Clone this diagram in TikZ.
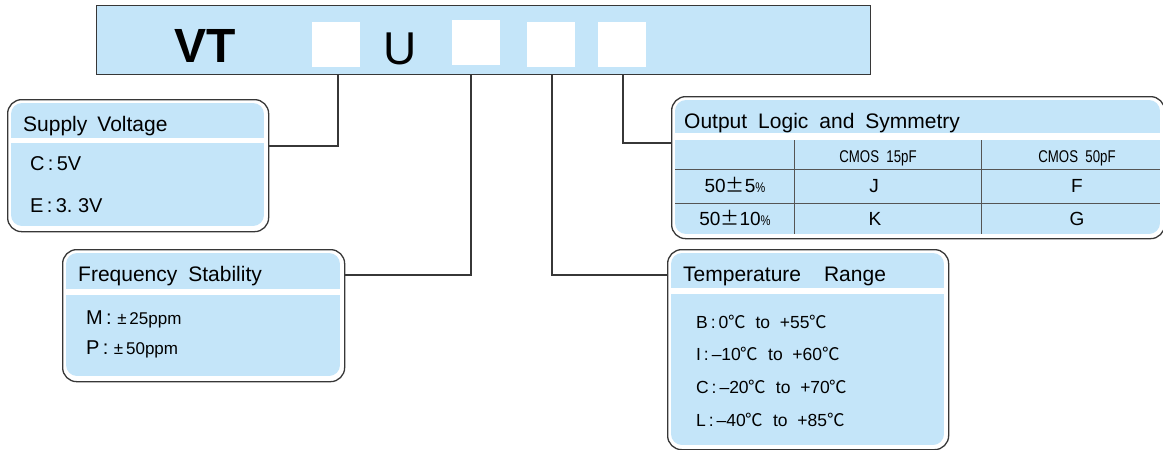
\documentclass[tikz,border=0pt]{standalone}
\usepackage{graphicx}
\usepackage{fontspec}
\setmainfont{Liberation Sans}
\newfontfamily\cjk{Noto Sans CJK SC}
\definecolor{cb}{RGB}{196,229,249}
\definecolor{ln}{RGB}{55,55,55}
\newcommand{\fs}[1]{\fontsize{#1}{#1}\selectfont}
\newcommand{\dc}{{\cjk ℃}}
\newcommand{\mypanel}[6]{%
  \begin{scope}
    \clip[rounded corners=11pt] (#1,#2) rectangle (#3,#4);
    \fill[cb] (#1,#2) rectangle (#3,#5);
    \fill[cb] (#1,#6) rectangle (#3,#4);
  \end{scope}}
\begin{document}
\begin{tikzpicture}[x=1pt,y=-1pt,
  outer/.style={draw=ln, line width=1.3pt, fill=white, rounded corners=14pt, inner sep=0, anchor=north west},
  sq/.style={fill=white, inner sep=0, minimum width=48pt, minimum height=45pt, anchor=north west},
  lab/.style={anchor=base west, inner sep=0, font=\fs{20}},
  hd/.style={anchor=base west, inner sep=0, font=\fs{21}},
  ent/.style={anchor=base west, inner sep=0, font=\fs{17.5}},
  cell/.style={anchor=base, inner sep=0, font=\fs{19}},
  conn/.style={draw=ln, line width=1.1pt},
  tl/.style={draw=ln!85, line width=1pt}]
\useasboundingbox (0,0) rectangle (1163,450);

% top bar
\node[draw=ln, line width=1.3pt, fill=cb, anchor=north west, minimum width=774pt, minimum height=69pt, inner sep=0] (bar) at (96,5) {};
\node[sq] (s1) at (312,22) {};
\node[sq] (s2) at (452,20) {};
\node[sq] (s3) at (527,22) {};
\node[sq] (s4) at (598,22) {};
\node[anchor=base, font=\fs{48}\bfseries, inner sep=0] (vt) at (205,62) {VT};
\node[anchor=base, font=\fs{46}, inner sep=0] (u) at (400,64) {U};

% boxes
\node[outer, minimum width=261pt, minimum height=132pt] (b1) at (7,99) {};
\node[outer, minimum width=282pt, minimum height=132pt] (b2) at (62,249) {};
\node[outer, minimum width=493pt, minimum height=142pt] (b3) at (671,96) {};
\node[outer, minimum width=281pt, minimum height=200pt] (b4) at (667,249) {};

\mypanel{11}{103}{264}{226}{138}{143}
\mypanel{66}{253}{340}{376}{289}{295}
\mypanel{675}{100}{1160}{234}{133}{140}
\mypanel{671}{253}{944}{445}{288}{294}

% connectors
\coordinate (k1) at (338,146);
\coordinate (k2) at (471,275);
\coordinate (k3) at (552,275);
\coordinate (k4) at (623,143);
\draw[conn] (k1 |- bar.south) -- (k1) -- (k1 -| b1.east);
\draw[conn] (k2 |- bar.south) -- (k2) -- (k2 -| b2.east);
\draw[conn] (k3 |- bar.south) -- (k3) -- (k3 -| b4.west);
\draw[conn] (k4 |- bar.south) -- (k4) -- (k4 -| b3.west);

% box 1
\node[hd] (h1) at (23,131) {Supply\hspace{10pt}Voltage};
\node[lab] (c1) at (30,170) {C\,:\,5V};
\node[lab] (e1) at (30,212) {E\,:\,3.\ 3V};

% box 2
\node[hd] (h2) at (78,281) {Frequency\hspace{11pt}Stability};
\node[lab] (m2) at (86,324) {M\,:\ {\fs{17}±\,25ppm}};
\node[lab] (p2) at (86,354) {P\,:\ {\fs{17}±\,50ppm}};

% box 3
\node[hd] (h3) at (684,128) {Output\hspace{11pt}Logic\hspace{11pt}and\hspace{11pt}Symmetry};
\draw[tl] (675,169) -- (1160,169);
\draw[tl] (675,203) -- (1160,203);
\draw[tl] (794,140) -- (794,234);
\draw[tl] (981,140) -- (981,234);
\node[cell, font=\fs{17}] (t12) at (878,162) {\scalebox{0.78}[1]{CMOS\ \ 15pF}};
\node[cell, font=\fs{17}] (t13) at (1077,162) {\scalebox{0.78}[1]{CMOS\ \ 50pF}};
\node[cell] (t21) at (735,192) {50{\cjk ±}5{\fs{14}\scalebox{0.8}[1]{\%}}};
\node[cell] (t22) at (874,192) {J};
\node[cell] (t23) at (1077,192) {F};
\node[cell] (t31) at (735,225) {50{\cjk ±}10{\fs{14}\scalebox{0.8}[1]{\%}}};
\node[cell] (t32) at (875,225) {K};
\node[cell] (t33) at (1077,225) {G};

% box 4
\node[hd] (h4) at (683,281) {Temperature\hspace{23pt}Range};
\node[ent] (r1) at (696,328) {B\,:\,0\dc\ \ to\ \ +55\dc};
\node[ent] (r2) at (696,360) {I\,:\,–10\dc\ \ to\ \ +60\dc};
\node[ent] (r3) at (696,393) {C\,:\,–20\dc\ \ to\ \ +70\dc};
\node[ent] (r4) at (696,426) {L\,:\,–40\dc\ \ to\ \ +85\dc};
\end{tikzpicture}
\end{document}
